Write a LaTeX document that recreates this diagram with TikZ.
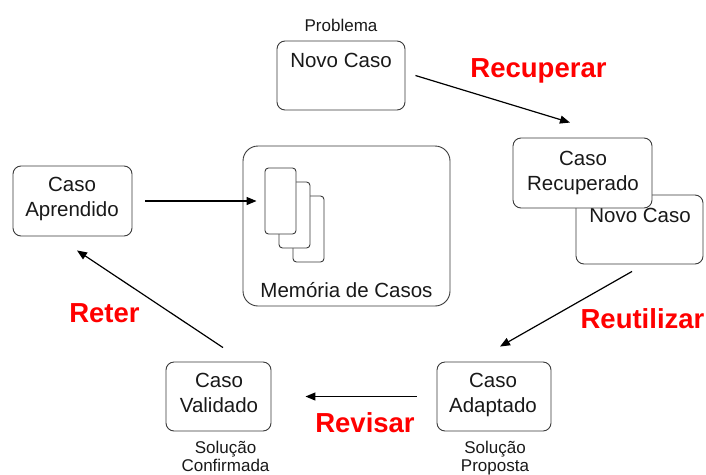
\documentclass[tikz,border=0pt]{standalone}
\usepackage{fontspec}
\setmainfont{Liberation Sans}
\usetikzlibrary{arrows.meta}
\definecolor{edge}{HTML}{3A3A3A}
\tikzset{
  box/.style={draw=edge, line width=0.9pt, rounded corners=8pt, fill=white, inner sep=0pt},
  card/.style={draw=edge, line width=0.9pt, rounded corners=3.5pt, fill=white, inner sep=0pt, minimum width=31pt, minimum height=66pt},
  txt/.style={font=\fontsize{20.5}{24.5}\selectfont, align=center, anchor=base, inner sep=0pt, text=black!90},
  small/.style={font=\fontsize{17}{18}\selectfont, align=center, anchor=base, inner sep=0pt, text=black!90},
  stage/.style={font=\fontsize{27.5}{30}\selectfont\bfseries, text=red, anchor=base, inner sep=0pt},
  flow/.style={line width=1.2pt, -{Triangle[length=10pt,width=8pt]}}
}
\begin{document}
\begin{tikzpicture}[x=1pt,y=-1pt]
\useasboundingbox (0,0) rectangle (706,474);
% boxes
\node[box, minimum width=128pt, minimum height=69pt] (novo) at (341,75.5) {};
\node[box, minimum width=127pt, minimum height=69pt] (novoB) at (639.5,229.5) {};
\node[txt] (novoBt) at (640,222) {Novo Caso};
\node[box, minimum width=139pt, minimum height=70pt] (recup) at (582.5,173) {};
\node[box, minimum width=114pt, minimum height=69pt] (adapt) at (494,396.5) {};
\node[box, minimum width=105pt, minimum height=69pt] (valid) at (218.5,396.5) {};
\node[box, minimum width=119pt, minimum height=70pt] (aprend) at (72.5,201) {};
\node[box, rounded corners=15pt, minimum width=207pt, minimum height=160pt] (mem) at (346.5,226) {};
% cards
\node[card] (card3) at (308.5,229) {};
\node[card] (card2) at (294.5,215) {};
\node[card] (card1) at (280.5,201) {};
% texts
\node[small] (problema) at (341,31) {Problema};
\node[txt] (novot) at (341,67) {Novo Caso};
\node[txt] (recupt) at (583,190) {Caso\\Recuperado};
\node[txt] (adaptt) at (493,412) {Caso\\Adaptado};
\node[txt] (validt) at (219,412) {Caso\\Validado};
\node[txt] (aprendt) at (72,216) {Caso\\Aprendido};
\node[txt] (memt) at (346.5,297) {Memória de Casos};
\node[small] (propt) at (495,471) {Solução\\Proposta};
\node[small] (conft) at (225.5,471) {Solução\\Confirmada};
% stage labels
\node[stage] (lrec) at (538.5,77) {Recuperar};
\node[stage] (lreu) at (642.5,328) {Reutilizar};
\node[stage] (lrev) at (365,432) {Revisar};
\node[stage] (lret) at (104.5,322) {Reter};
% connectors
\draw[flow] ([shift={(10,0)}]novo.east) -- ([shift={(-12.5,-15)}]recup.north);
\draw[flow] ([shift={(-7.5,7)}]novoB.south) -- ([shift={(6,-15)}]adapt.north);
\draw[flow] ([shift={(-20,0)}]adapt.west) -- ([shift={(34,0)}]valid.east);
\draw[flow] ([shift={(4.5,-14)}]valid.north) -- ([shift={(4.5,14)}]aprend.south);
\draw[flow] ([shift={(13,0)}]aprend.east) -- ([shift={(-8,0)}]card1.west);
\end{tikzpicture}
\end{document}
